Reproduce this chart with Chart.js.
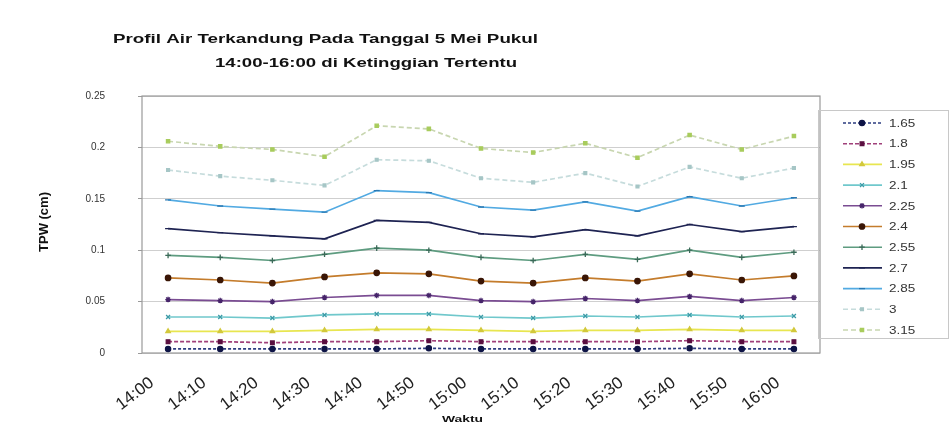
<!DOCTYPE html>
<html>
<head>
<meta charset="utf-8">
<title>Profil Air Terkandung</title>
<script src="https://cdn.jsdelivr.net/npm/chart.js@4.4.0/dist/chart.umd.min.js"></script>
<style>
    html, body { margin: 0; padding: 0; background: #fff; }
</style>
</head>
<body>
<canvas id="tpwChart" width="949" height="437"></canvas>
<script>
// waktu pengamatan (sumbu x)
const waktu = ['14:00', '14:10', '14:20', '14:30', '14:40', '14:50', '15:00', '15:10', '15:20', '15:30', '15:40', '15:50', '16:00'];
// ketinggian untuk tiap seri
const ketinggian = ['1.65', '1.8', '1.95', '2.1', '2.25', '2.4', '2.55', '2.7', '2.85', '3', '3.15'];
const yTicks = [0, 0.05, 0.1, 0.15, 0.2, 0.25];

// nilai TPW (cm) per ketinggian
const tpw165 = [0.004, 0.004, 0.004, 0.004, 0.004, 0.0045, 0.004, 0.004, 0.004, 0.004, 0.0045, 0.004, 0.004];
const tpw180 = [0.011, 0.011, 0.010, 0.011, 0.011, 0.012, 0.011, 0.011, 0.011, 0.011, 0.012, 0.011, 0.011];
const tpw195 = [0.021, 0.021, 0.021, 0.022, 0.023, 0.023, 0.022, 0.021, 0.022, 0.022, 0.023, 0.022, 0.022];
const tpw210 = [0.035, 0.035, 0.034, 0.037, 0.038, 0.038, 0.035, 0.034, 0.036, 0.035, 0.037, 0.035, 0.036];
const tpw225 = [0.052, 0.051, 0.050, 0.054, 0.056, 0.056, 0.051, 0.050, 0.053, 0.051, 0.055, 0.051, 0.054];
const tpw240 = [0.073, 0.071, 0.068, 0.074, 0.078, 0.077, 0.070, 0.068, 0.073, 0.070, 0.077, 0.071, 0.075];
const tpw255 = [0.095, 0.093, 0.090, 0.096, 0.102, 0.100, 0.093, 0.090, 0.096, 0.091, 0.100, 0.093, 0.098];
const tpw270 = [0.121, 0.117, 0.114, 0.111, 0.129, 0.127, 0.116, 0.113, 0.120, 0.114, 0.125, 0.118, 0.123];
const tpw285 = [0.149, 0.143, 0.140, 0.137, 0.158, 0.156, 0.142, 0.139, 0.147, 0.138, 0.152, 0.143, 0.151];
const tpw300 = [0.178, 0.172, 0.168, 0.163, 0.188, 0.187, 0.170, 0.166, 0.175, 0.162, 0.181, 0.170, 0.180];
const tpw315 = [0.206, 0.201, 0.198, 0.191, 0.221, 0.218, 0.199, 0.195, 0.204, 0.190, 0.212, 0.198, 0.211];

const semuaSeri = [tpw165, tpw180, tpw195, tpw210, tpw225, tpw240, tpw255, tpw270, tpw285, tpw300, tpw315];

// gaya garis dan penanda tiap seri
const gaya = [
    { garis: '#2c3c80', titik: '#0e1446', bentuk: 'circle', dash: [3, 2], r: 2.6 },
    { garis: '#a0407a', titik: '#5a0f40', bentuk: 'rect', dash: [4, 2], r: 2.6 },
    { garis: '#e8e650', titik: '#d2c83c', bentuk: 'triangle', dash: [], r: 2.6 },
    { garis: '#70c8cc', titik: '#3e9ca8', bentuk: 'crossRot', dash: [], r: 2.8 },
    { garis: '#7a4c92', titik: '#46246a', bentuk: 'star', dash: [], r: 2.8 },
    { garis: '#c47c2c', titik: '#3a1606', bentuk: 'circle', dash: [], r: 2.7 },
    { garis: '#5e9c80', titik: '#3a6a58', bentuk: 'cross', dash: [], r: 2.8 },
    { garis: '#1e2352', titik: '#1e2352', bentuk: 'line', dash: [], r: 3 },
    { garis: '#52aae2', titik: '#2a78b2', bentuk: 'line', dash: [], r: 3 },
    { garis: '#c6dcdc', titik: '#a6c6c6', bentuk: 'rect', dash: [5, 3], r: 2 },
    { garis: '#c8d6b0', titik: '#a8cc5c', bentuk: 'rect', dash: [5, 3], r: 2.3 }
];

const datasets = semuaSeri.map(function(nilai, i) {
    const g = gaya[i];
    return {
        label: ketinggian[i],
        data: nilai,
        borderColor: g.garis,
        borderWidth: 1.7,
        borderDash: g.dash,
        pointStyle: g.bentuk,
        pointRadius: g.r,
        pointBorderColor: g.titik,
        pointBackgroundColor: g.titik,
        pointBorderWidth: 1.3,
        tension: 0,
        fill: false
    };
});

// teks yang direntangkan mendatar
function tulisLebar(ctx, teks, x, y, lebar) {
    const w = ctx.measureText(teks).width;
    ctx.save();
    ctx.translate(x, y);
    ctx.scale(lebar / w, 1);
    ctx.fillText(teks, 0, 0);
    ctx.restore();
}

// judul, bingkai area plot, label sumbu dan legenda
const hiasan = {
    id: 'hiasan',
    beforeDatasetsDraw: function(chart) {
        const ctx = chart.ctx;
        const a = chart.chartArea;
        ctx.save();
        ctx.strokeStyle = '#9a9a9a';
        ctx.lineWidth = 1.2;
        ctx.strokeRect(a.left, a.top, a.right - a.left, a.bottom - a.top);
        ctx.restore();
    },
    afterDraw: function(chart) {
        const ctx = chart.ctx;
        ctx.save();
        ctx.fillStyle = '#111';
        ctx.textAlign = 'left';
        ctx.textBaseline = 'middle';
        ctx.font = 'bold 12px "Liberation Sans", Arial, sans-serif';
        tulisLebar(ctx, 'Profil Air Terkandung Pada Tanggal 5 Mei Pukul', 113, 40, 425);
        tulisLebar(ctx, '14:00-16:00 di Ketinggian Tertentu', 215, 64, 302);

        // judul sumbu y
        ctx.save();
        ctx.translate(44, 222);
        ctx.rotate(-Math.PI / 2);
        ctx.textAlign = 'center';
        ctx.font = 'bold 13px "Liberation Sans", Arial, sans-serif';
        ctx.fillText('TPW (cm)', 0, 0);
        ctx.restore();

        // judul sumbu x
        ctx.font = 'bold 9px "Liberation Sans", Arial, sans-serif';
        tulisLebar(ctx, 'Waktu', 442, 420, 41);

        // legenda
        ctx.strokeStyle = '#c8c8c8';
        ctx.lineWidth = 1;
        ctx.strokeRect(818.5, 110.5, 130, 228);
        ctx.font = '10px "Liberation Sans", Arial, sans-serif';
        chart.data.datasets.forEach(function(ds, i) {
            const y = 123 + i * 20.7;
            ctx.save();
            ctx.strokeStyle = ds.borderColor;
            ctx.lineWidth = 1.6;
            ctx.setLineDash(ds.borderDash);
            ctx.beginPath();
            ctx.moveTo(843, y);
            ctx.lineTo(882, y);
            ctx.stroke();
            ctx.setLineDash([]);
            ctx.strokeStyle = ds.pointBorderColor;
            ctx.fillStyle = ds.pointBackgroundColor;
            ctx.lineWidth = ds.pointBorderWidth;
            Chart.helpers.drawPoint(ctx, {
                pointStyle: ds.pointStyle,
                radius: ds.pointRadius,
                rotation: 0,
                borderWidth: ds.pointBorderWidth
            }, 862, y);
            ctx.restore();
            ctx.fillStyle = '#333';
            tulisLebar(ctx, ds.label, 889, y + 1, ctx.measureText(ds.label).width * 1.35);
        });
        ctx.restore();
    }
};

new Chart(document.getElementById('tpwChart'), {
    type: 'line',
    data: {
        labels: waktu,
        datasets: datasets
    },
    options: {
        responsive: false,
        animation: false,
        layout: {
            padding: { left: 0, top: 96, right: 129, bottom: 0 }
        },
        plugins: {
            legend: { display: false },
            title: { display: false },
            tooltip: { enabled: false }
        },
        scales: {
            x: {
                offset: true,
                grid: { display: false, drawTicks: true, tickLength: 4 },
                border: { display: false },
                ticks: {
                    autoSkip: false,
                    minRotation: 37,
                    maxRotation: 37,
                    labelOffset: -16,
                    padding: 16,
                    color: '#222',
                    font: { family: '"Liberation Sans", Arial, sans-serif', size: 17 }
                },
                afterFit: function(s) { s.height = 84; }
            },
            y: {
                min: 0,
                max: 0.25,
                afterBuildTicks: function(s) {
                    s.ticks = yTicks.map(function(v) { return { value: v }; });
                },
                grid: {
                    color: '#cfcfcf',
                    lineWidth: 1,
                    drawTicks: true,
                    tickLength: 4,
                    tickColor: '#9a9a9a'
                },
                border: { display: false },
                ticks: {
                    padding: 33,
                    color: '#333',
                    font: { family: '"Liberation Sans", Arial, sans-serif', size: 10 },
                    callback: function(v) { return String(+v.toFixed(2)); }
                },
                afterFit: function(s) { s.width = 142; }
            }
        }
    },
    plugins: [hiasan]
});
</script>
</body>
</html>
